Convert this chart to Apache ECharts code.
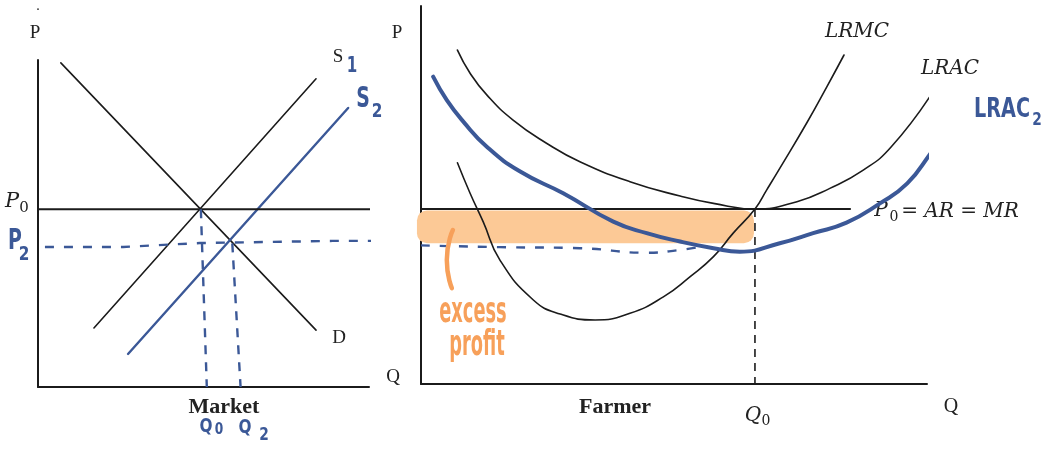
<!DOCTYPE html>
<html>
<head>
<meta charset="utf-8">
<title>Market and farmer</title>
<script src="https://cdn.jsdelivr.net/npm/echarts@6/dist/echarts.min.js"></script>
<style>
  html, body { margin: 0; padding: 0; background: #fff; }
  #chart { width: 1054px; height: 450px; }
</style>
</head>
<body>
<div id="chart"></div>
<script>
// market panel: Q 0-100, P 0-92
const demand = [[6.9, 91.2], [84, 16]]
const supply1 = [[16.9, 16.6], [84, 86.7]]
const supply2 = [[27.2, 9.3], [93.7, 78.5]]
const marketP0 = [[0, 50], [115.4, 50]]
const marketP2 = [[2.1, 39.4], [25.7, 39.4], [48.9, 40.5], [89.1, 41.1], [103.3, 41.1], [115.4, 40]]
const q0Drop = [[49.2, 50], [51, 0]]
const q2Drop = [[58.7, 40.4], [61.2, 0]]

// farmer panel: Q 0-100, P 0-108
const lrmc = [[7.2, 63.2], [9.7, 54.5], [12.3, 46.3], [15.6, 35.4], [22.2, 24], [27.5, 20], [34.4, 18.3],
  [41.3, 20.2], [47.9, 24.9], [53.2, 30.7], [57.8, 36.4], [61.7, 43.1], [66, 50], [68.3, 55.4],
  [70.9, 61.6], [76.2, 74.5], [80.2, 84.9], [83.6, 94]]
const lrac = [[7.2, 95.4], [9.7, 88.8], [13, 82.6], [18.2, 75.4], [24.8, 68.8], [31.4, 63.5], [41.3, 57.8],
  [51.2, 53.7], [57.8, 51.6], [66, 50], [74.3, 52.1], [80.8, 55.9], [87.4, 61.1], [92.9, 67.7], [101, 83.1]]
const lrac2 = [[2.4, 87.8], [5.1, 81.1], [8.4, 74.9], [13, 67.8], [19.6, 60.7], [28.1, 54.5], [38, 46.4],
  [44.6, 43.1], [51.2, 40.7], [57.8, 38.8], [63, 37.8], [70.9, 40.2], [77.5, 43.1], [84.1, 46.1],
  [90.7, 51.6], [96.1, 57.3], [100.7, 65.9], [105.7, 75.9]]
const farmP0 = [[0, 50], [84.8, 50]]
const farmP2 = [[0, 39.6], [15.6, 39.1], [31.4, 38.8], [44.6, 37.5], [51.2, 38.3], [55.1, 39.2]]
const farmQ0 = [[66, 50], [66, 0]]
const profitQ = [-0.8, 65.8]
const profitP = [40.2, 49.6]
const bracket = [[6.3, 44], [5.1, 35.4], [6.1, 27.4]]

const ink = '#1b1b1b'
const blue = '#3b5897'
const orange = '#f7a05a'
const serif = '"Liberation Serif", "DejaVu Serif", serif'
const mathFont = '"DejaVu Serif", serif'
const hand = '"DejaVu Sans Condensed", "Liberation Sans Narrow", sans-serif'

const line = (data, grid, color, width, extra) => Object.assign({
  type: 'line',
  data: data,
  xAxisIndex: grid,
  yAxisIndex: grid,
  symbol: 'none',
  silent: true,
  lineStyle: { color: color, width: width, cap: 'round' }
}, extra || {})

const axisBase = (grid, max) => ({
  type: 'value',
  gridIndex: grid,
  min: 0,
  max: max,
  axisLine: { show: true, onZero: false, lineStyle: { color: ink, width: 2 } },
  axisTick: { show: false },
  axisLabel: { show: false },
  splitLine: { show: false }
})

const label = (x, y, text, font, fill, extra) => Object.assign({
  type: 'text',
  x: x,
  y: y,
  silent: true,
  style: { text: text, font: font, fill: fill || '#222', align: 'center', verticalAlign: 'middle' }
}, extra || {})

const chart = echarts.init(document.getElementById('chart'))

chart.setOption({
  animation: false,
  backgroundColor: '#fff',
  grid: [
    { left: 38, right: 685, top: 60, bottom: 63 },
    { left: 421, right: 127, top: 6, bottom: 66 }
  ],
  xAxis: [axisBase(0, 100), axisBase(1, 100)],
  yAxis: [axisBase(0, 92), axisBase(1, 108)],
  series: [
    // excess profit band
    {
      type: 'custom',
      coordinateSystem: 'cartesian2d',
      xAxisIndex: 1,
      yAxisIndex: 1,
      silent: true,
      z: 1,
      data: [[profitQ[0], profitQ[1], profitP[0], profitP[1]]],
      encode: { x: [0, 1], y: [2, 3] },
      renderItem: (params, api) => {
        const a = api.coord([api.value(0), api.value(3)])
        const b = api.coord([api.value(1), api.value(2)])
        return {
          type: 'rect',
          shape: { x: a[0], y: a[1], width: b[0] - a[0], height: b[1] - a[1], r: 10 },
          style: { fill: '#fcc996' }
        }
      }
    },
    line(demand, 0, ink, 1.6),
    line(supply1, 0, ink, 1.6),
    line(supply2, 0, blue, 2.4),
    line(marketP0, 0, ink, 2, { clip: false }),
    line(marketP2, 0, blue, 2.4, { clip: false, lineStyle: { color: blue, width: 2.4, type: [9, 10] } }),
    line(q0Drop, 0, blue, 2.4, { lineStyle: { color: blue, width: 2.4, type: [9, 8] } }),
    line(q2Drop, 0, blue, 2.4, { lineStyle: { color: blue, width: 2.4, type: [9, 8] } }),

    line(farmP0, 1, ink, 2, { z: 3 }),
    line(farmQ0, 1, ink, 1.6, { lineStyle: { color: ink, width: 1.6, type: [8, 6] } }),
    line(farmP2, 1, blue, 2.4, { smooth: 0.5, lineStyle: { color: blue, width: 2.4, type: [9, 10] } }),
    line(lrmc, 1, ink, 1.6, { smooth: 0.5 }),
    line(lrac, 1, ink, 1.6, { smooth: 0.5, clip: false }),
    line(lrac2, 1, blue, 4, { smooth: 0.5, clip: false }),
    line(bracket, 1, orange, 4.5, { smooth: 0.6 })
  ],
  graphic: [
    label(38, 6, '.', '14px ' + serif),
    label(35, 33, 'P', '19px ' + serif),
    label(397, 33, 'P', '19px ' + serif),
    label(338, 57, 'S', '19px ' + serif),
    label(352, 67, '1', 'bold 21px ' + hand, blue, { scaleX: 0.8 }),
    label(363, 100, 'S', 'bold 28px ' + hand, blue, { scaleX: 0.75 }),
    label(377, 112, '2', 'bold 20px ' + hand, blue, { scaleX: 0.85 }),
    label(339, 338, 'D', '19px ' + serif),
    label(393, 377, 'Q', '19px ' + serif),
    label(12, 202, 'P', 'italic 21px ' + mathFont),
    label(24, 208, '0', '15px ' + mathFont),
    label(15, 242, 'P', 'bold 28px ' + hand, blue, { scaleX: 0.75 }),
    label(24, 255, '2', 'bold 20px ' + hand, blue, { scaleX: 0.85 }),
    label(224, 407, 'Market', 'bold 22px ' + serif),
    label(206, 427, 'Q', 'bold 20px ' + hand, blue, { scaleX: 0.85 }),
    label(219, 430, '0', 'bold 16px ' + hand, blue, { scaleX: 0.85 }),
    label(245, 428, 'Q', 'bold 20px ' + hand, blue, { scaleX: 0.85 }),
    label(264, 435, '2', 'bold 18px ' + hand, blue, { scaleX: 0.85 }),
    label(615, 407, 'Farmer', 'bold 22px ' + serif),
    label(951, 407, 'Q', '20px ' + serif),
    label(753, 416, 'Q', 'italic 20px ' + mathFont),
    label(766, 421, '0', '14px ' + mathFont),
    label(857, 32, 'LRMC', 'italic 20px ' + mathFont),
    label(950, 69, 'LRAC', 'italic 20px ' + mathFont),
    label(1002, 110, 'LRAC', 'bold 26px ' + hand, blue, { scaleX: 0.82 }),
    label(1037, 120, '2', 'bold 18px ' + hand, blue, { scaleX: 0.85 }),
    label(881, 211, 'P', 'italic 20px ' + mathFont),
    label(894, 217, '0', '14px ' + mathFont),
    label(960, 212, '= AR = MR', 'italic 20px ' + mathFont),
    label(473, 313, 'excess', 'bold 36px ' + hand, orange, { scaleX: 0.55 }),
    label(477, 346, 'profit', 'bold 36px ' + hand, orange, { scaleX: 0.55 })
  ]
})
</script>
</body>
</html>
